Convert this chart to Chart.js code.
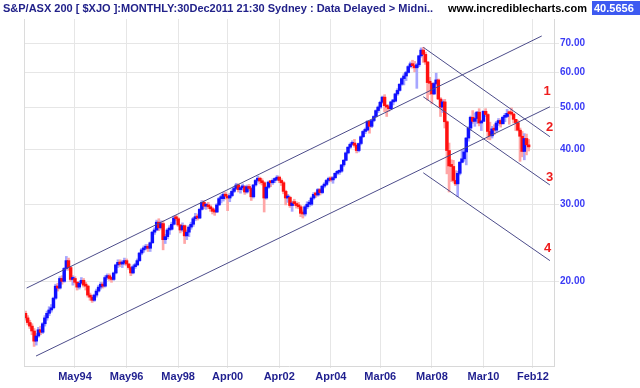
<!DOCTYPE html>
<html>
<head>
<meta charset="utf-8">
<script src="https://cdn.jsdelivr.net/npm/chart.js@4.4.1/dist/chart.umd.min.js"></script>
<style>
  body { margin: 0; background: #fff; }
  #wrap { position: relative; width: 640px; height: 388px; overflow: hidden; }
  canvas { position: absolute; left: 0; top: 0; }
  .hd { position: absolute; top: 1px; font: bold 11px Arial, "Liberation Sans", sans-serif; white-space: nowrap; line-height: 14px; }
  #title { left: 3px; color: #22228a; }
  #site { left: 448px; color: #000; }
  #last { left: 592px; width: 60px; background: #3d5af1; color: #fff; padding-left: 2px; }
</style>
</head>
<body>
<div id="wrap">
  <canvas id="chart" width="640" height="388"></canvas>
  <div class="hd" id="title">S&amp;P/ASX 200 [ $XJO ]:MONTHLY:30Dec2011 21:30 Sydney : Data Delayed &gt; Midni..</div>
  <div class="hd" id="site">www.incrediblecharts.com</div>
  <div class="hd" id="last">40.5656</div>
</div>
<script>
// months counted from Jan 1992, first bar is Jun 1992
const firstMonth = 5
const firstOpen = 16.9

const closes = [
  16.5, 16.1, 15.8, 15.4, 14.6, 15.0, 15.5,
  15.3, 16.0, 16.5, 16.9, 17.2, 17.4, 18.3, 19.5, 19.3, 20.3, 20.0, 21.4,
  22.3, 21.5, 20.2, 20.3, 19.9, 19.4, 19.8, 20.1, 19.6, 19.5, 18.6, 18.4,
  18.1, 18.6, 19.0, 19.4, 19.7, 19.5, 20.4, 20.6, 20.3, 20.2, 20.9, 21.8,
  22.1, 21.9, 22.0, 22.3, 21.9, 21.5, 20.9, 21.6, 21.8, 22.3, 23.2, 23.6,
  23.8, 23.9, 23.8, 24.5, 25.9, 26.2, 27.3, 26.5, 27.1, 24.9, 25.3, 26.2,
  26.3, 27.0, 27.9, 27.8, 26.9, 26.2, 26.8, 25.4, 25.9, 26.6, 27.0, 27.8,
  28.1, 27.9, 29.2, 30.3, 29.7, 29.8, 29.6, 29.3, 28.9, 28.8, 29.9, 30.9,
  30.9, 31.6, 31.3, 31.0, 31.4, 32.1, 32.6, 33.2, 32.4, 32.7, 32.9, 32.0,
  32.9, 32.6, 31.2, 33.2, 34.0, 34.4, 33.9, 33.6, 31.0, 32.8, 33.7, 33.6,
  34.0, 34.2, 34.6, 34.0, 33.6, 32.1, 31.0, 31.1, 29.8, 30.2, 30.1, 29.8,
  29.6, 28.6, 28.5, 29.6, 30.0, 30.0, 31.0, 31.6, 31.5, 32.4, 31.9, 33.0,
  33.3, 34.0, 34.3, 34.1, 34.5, 35.3, 35.5, 35.7, 36.9, 37.8, 39.3, 40.5,
  41.1, 41.4, 40.9, 39.8, 41.3, 42.8, 44.0, 44.3, 46.4, 45.2, 46.6, 47.6,
  49.1, 50.0, 51.3, 52.7, 50.4, 50.0, 49.6, 51.4, 51.6, 53.6, 54.6, 56.4,
  58.1, 58.9, 60.0, 61.9, 62.8, 62.2, 61.5, 62.5, 65.5, 67.5, 66.0, 63.4,
  56.9, 56.7, 53.6, 56.6, 57.7, 52.2, 50.0, 51.4, 46.3, 39.8, 36.7, 36.6,
  34.0, 33.4, 35.3, 37.4, 38.1, 39.5, 42.5, 44.8, 47.4, 46.4, 47.1, 48.7,
  46.0, 46.4, 48.9, 48.1, 44.0, 43.0, 44.6, 44.3, 46.0, 46.6, 45.8, 47.4,
  47.6, 48.4, 48.3, 48.2, 46.9, 46.1, 44.3, 42.9, 39.6, 42.4, 41.0, 40.57
]

const highs = [
  17.1, 16.7, 16.3, 16.0, 15.6, 15.2, 15.7,
  15.8, 16.1, 16.7, 17.1, 17.5, 17.7, 18.4, 19.7, 19.8, 20.5, 20.6, 21.5,
  22.8, 22.6, 21.6, 20.6, 20.5, 20.0, 20.0, 20.4, 20.3, 19.9, 19.6, 18.8,
  18.6, 18.7, 19.2, 19.6, 19.9, 19.9, 20.6, 20.8, 20.8, 20.5, 21.0, 21.9,
  22.4, 22.4, 22.3, 22.6, 22.5, 22.0, 21.6, 21.8, 22.0, 22.5, 23.3, 23.8,
  24.1, 24.3, 24.3, 24.6, 26.0, 26.5, 27.6, 27.8, 27.5, 27.5, 25.6, 26.4,
  26.8, 27.3, 28.2, 28.3, 28.0, 27.0, 27.2, 26.9, 26.2, 26.8, 27.3, 28.0,
  28.6, 28.5, 29.4, 30.6, 30.6, 30.1, 30.3, 29.9, 29.5, 29.3, 30.1, 31.1,
  31.5, 31.9, 32.0, 31.6, 31.8, 32.4, 32.9, 33.5, 33.4, 33.0, 33.4, 33.1,
  33.2, 33.3, 32.8, 33.3, 34.2, 34.8, 34.6, 34.3, 33.8, 33.0, 33.9, 33.9,
  34.3, 34.5, 34.9, 34.8, 34.3, 33.8, 32.3, 31.6, 31.3, 30.5, 30.8, 30.4,
  30.3, 29.8, 29.1, 29.8, 30.4, 30.6, 31.2, 31.9, 32.0, 32.6, 32.6, 33.1,
  33.6, 34.2, 34.6, 34.7, 34.7, 35.4, 35.8, 35.9, 37.0, 38.0, 39.5, 40.6,
  41.4, 41.9, 42.2, 41.2, 41.4, 43.0, 44.2, 44.8, 46.6, 46.6, 46.8, 47.8,
  49.3, 50.3, 51.6, 53.0, 53.4, 50.6, 50.6, 51.6, 52.0, 53.8, 55.1, 56.6,
  58.4, 59.6, 60.4, 62.2, 63.4, 64.0, 63.6, 63.0, 65.7, 68.3, 68.5, 66.8,
  63.6, 58.5, 56.8, 56.9, 59.8, 58.0, 52.6, 52.0, 52.1, 46.5, 41.4, 37.9,
  37.8, 35.8, 35.7, 37.6, 39.9, 40.2, 42.6, 45.1, 47.7, 49.1, 48.5, 48.9,
  49.6, 46.7, 49.1, 49.6, 48.3, 46.2, 45.2, 45.6, 46.4, 47.1, 47.0, 47.7,
  48.4, 49.4, 49.0, 49.8, 48.4, 46.9, 46.6, 44.8, 44.0, 43.5, 43.4, 42.2
]

const lows = [
  16.3, 15.9, 15.6, 15.1, 14.2, 14.3, 14.9,
  15.1, 15.2, 15.8, 16.3, 16.7, 17.0, 17.3, 18.2, 19.0, 19.2, 19.7, 19.9,
  21.2, 21.2, 20.0, 19.6, 19.7, 19.1, 19.2, 19.7, 19.4, 19.1, 18.4, 18.1,
  17.9, 18.0, 18.4, 18.9, 19.2, 19.3, 19.4, 20.2, 20.1, 19.9, 20.1, 20.8,
  21.5, 21.6, 21.5, 21.8, 21.7, 21.3, 20.6, 20.8, 21.4, 21.7, 22.2, 23.0,
  23.3, 23.6, 23.4, 23.4, 24.4, 25.6, 26.1, 26.1, 26.3, 23.6, 24.4, 25.0,
  25.6, 26.2, 26.9, 27.5, 26.7, 25.8, 26.0, 24.4, 24.9, 25.3, 26.3, 26.7,
  27.5, 27.6, 27.8, 29.1, 29.3, 29.2, 29.3, 28.9, 28.5, 28.3, 28.7, 29.8,
  30.2, 30.5, 30.8, 29.0, 30.4, 31.2, 31.9, 32.4, 32.0, 31.8, 32.3, 31.6,
  31.8, 32.2, 30.6, 31.0, 33.0, 33.7, 33.4, 33.2, 28.8, 30.8, 32.6, 32.9,
  33.3, 33.6, 34.0, 33.6, 33.1, 31.7, 29.9, 30.3, 29.5, 28.9, 29.8, 29.4,
  29.3, 28.1, 27.9, 28.2, 29.3, 29.6, 29.8, 30.8, 31.1, 31.3, 31.5, 31.7,
  32.7, 33.1, 33.7, 33.8, 33.5, 34.3, 35.0, 35.1, 35.5, 36.6, 37.7, 39.1,
  40.2, 40.9, 40.5, 39.3, 39.5, 41.0, 42.6, 43.5, 44.1, 43.6, 44.9, 46.3,
  47.4, 48.6, 49.6, 51.0, 48.8, 47.6, 48.9, 49.3, 50.6, 51.4, 53.2, 54.4,
  56.1, 56.2, 57.5, 59.8, 61.5, 61.4, 60.2, 55.2, 61.9, 65.0, 63.3, 62.6,
  51.9, 53.4, 50.9, 53.4, 56.3, 52.0, 47.6, 48.6, 44.8, 35.2, 32.0, 33.8,
  33.7, 33.1, 31.2, 35.0, 37.3, 37.6, 36.9, 41.8, 44.2, 45.9, 45.2, 45.9,
  45.3, 44.2, 46.4, 47.6, 42.2, 42.1, 42.5, 43.3, 43.9, 45.4, 45.0, 45.8,
  46.3, 47.3, 45.7, 47.9, 46.0, 44.2, 44.1, 37.6, 38.5, 37.9, 38.9, 39.7
]

const tickMonths = [28, 52, 76, 99, 123, 147, 170, 194, 218, 241]
const tickLabels = ['May94', 'May96', 'May98', 'Apr00', 'Apr02', 'Apr04', 'Mar06', 'Mar08', 'Mar10', 'Feb12']
const priceTicks = [20, 30, 40, 50, 60, 70]

// trend lines, [month, price] end points
const channelTop = [[5.5, 19.3], [245.1, 72.7]]
const channelBottom = [[9.9, 13.5], [248.9, 50.1]]
const fallLine1 = [[190, 68.5], [248.9, 42.8]]
const fallLine2 = [[190, 52.8], [248.9, 33.2]]
const fallLine3 = [[190, 35.4], [248.9, 22.3]]
const lineTags = [['1', 247.6, 54.2], ['2', 248.8, 45.0], ['3', 248.8, 34.6], ['4', 247.8, 23.8]]

let bodies = [], wicks = [], bodyColors = [], wickColors = []
let prev = firstOpen
closes.forEach((c, i) => {
  const t = firstMonth + i
  const up = c >= prev
  bodies.push({x: t, y: [prev, c]})
  wicks.push({x: t, y: [lows[i], highs[i]]})
  bodyColors.push(up ? '#1010ff' : '#ff1010')
  wickColors.push(up ? '#a6a6ff' : '#ffa6a6')
  prev = c
})

function trend(pts) {
  return {
    type: 'line',
    data: pts.map(p => ({x: p[0], y: p[1]})),
    borderColor: '#4c4c8a',
    borderWidth: 1,
    pointRadius: 0,
    order: 0
  }
}

const extras = {
  id: 'extras',
  afterDatasetsDraw(chart) {
    const {ctx, chartArea, scales} = chart
    ctx.save()
    ctx.strokeStyle = '#dcdcdc'
    ctx.lineWidth = 1
    ctx.beginPath()
    ctx.moveTo(chartArea.left + 0.5, chartArea.top)
    ctx.lineTo(chartArea.left + 0.5, chartArea.bottom)
    ctx.stroke()
    ctx.fillStyle = '#ee1c1c'
    ctx.font = 'bold 13px Arial'
    ctx.textAlign = 'center'
    ctx.textBaseline = 'middle'
    lineTags.forEach(([txt, t, v]) => {
      ctx.fillText(txt, scales.x.getPixelForValue(t), scales.y.getPixelForValue(v))
    })
    ctx.restore()
  }
}

new Chart(document.getElementById('chart'), {
  type: 'bar',
  data: {
    datasets: [
      trend(channelTop),
      trend(channelBottom),
      trend(fallLine1),
      trend(fallLine2),
      trend(fallLine3),
      {
        data: bodies,
        backgroundColor: bodyColors,
        barThickness: 2.8,
        minBarLength: 2,
        grouped: false,
        order: 1
      },
      {
        data: wicks,
        backgroundColor: wickColors,
        barThickness: 2,
        grouped: false,
        order: 2
      }
    ]
  },
  options: {
    responsive: false,
    animation: false,
    layout: { padding: { left: 24, top: 19, right: 0, bottom: 0 } },
    plugins: { legend: { display: false }, tooltip: { enabled: false } },
    scales: {
      x: {
        type: 'linear',
        offset: false,
        min: 4.3,
        max: 250.8,
        afterBuildTicks: s => { s.ticks = tickMonths.map(v => ({value: v})) },
        afterFit: s => { s.height = 22 },
        grid: { color: '#e6e6e6', tickLength: 2, offset: false },
        border: { color: '#d8d8d8' },
        ticks: {
          autoSkip: false,
          maxRotation: 0,
          padding: 2,
          color: '#1f1f8f',
          font: { family: 'Arial', size: 11, weight: 'bold' },
          callback: (v, i) => tickLabels[i]
        }
      },
      y: {
        type: 'logarithmic',
        position: 'right',
        min: 12.81,
        max: 79.5,
        afterBuildTicks: s => { s.ticks = priceTicks.map(v => ({value: v})) },
        afterFit: s => { s.width = 86 },
        grid: { color: '#e6e6e6', tickLength: 5 },
        border: { color: '#d8d8d8' },
        ticks: {
          padding: 1,
          color: '#3b3bf5',
          font: { family: 'Arial', size: 10, weight: 'bold' },
          callback: v => Number(v).toFixed(2)
        }
      }
    }
  },
  plugins: [extras]
})
</script>
</body>
</html>
